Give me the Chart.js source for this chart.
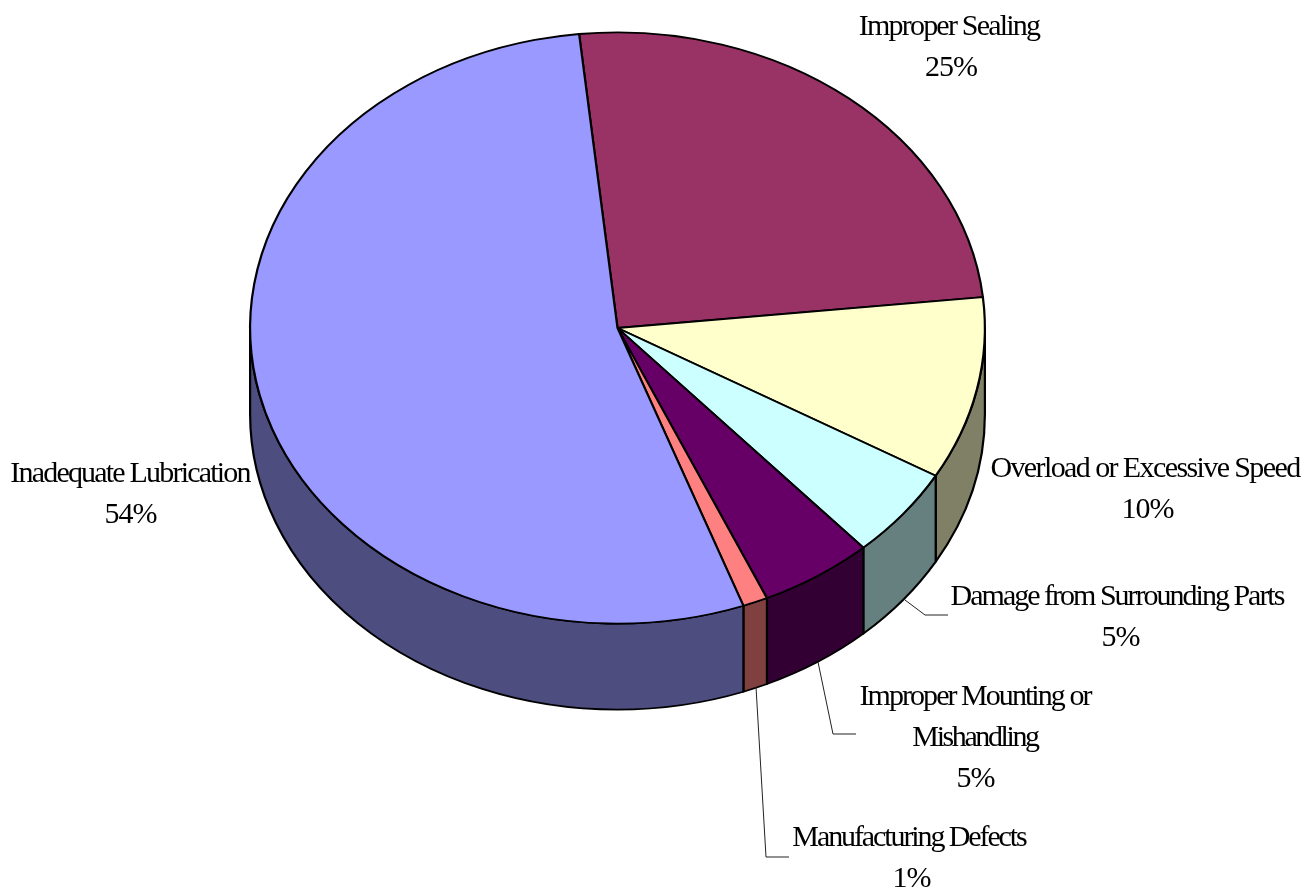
<!DOCTYPE html>
<html>
<head>
<meta charset="utf-8">
<title>Failure causes</title>
<script src="https://cdn.jsdelivr.net/npm/chart.js@4"></script>
<style>
  html, body { margin: 0; padding: 0; background: #fff; }
  canvas { display: block; }
</style>
</head>
<body>
<canvas id="pie" width="1310" height="890"></canvas>
<script>
const causes = ["Improper Sealing", "Overload or Excessive Speed", "Damage from Surrounding Parts",
  "Improper Mounting or Mishandling", "Manufacturing Defects", "Inadequate Lubrication"];
const shares = [25, 10, 5, 5, 1.1, 53.9];

const topColors = ["#993366", "#ffffcc", "#ccffff", "#660066", "#ff8080", "#9999ff"];
const wallColors = ["#4d1a33", "#808066", "#668080", "#330033", "#804040", "#4d4d80"];

// label text placement, one entry per cause
const labelLines = [
  ["Improper Sealing"],
  ["Overload or Excessive Speed"],
  ["Damage from Surrounding Parts"],
  ["Improper Mounting or", "Mishandling"],
  ["Manufacturing Defects"],
  ["Inadequate Lubrication"]
];
const labelTracking = [[-1.8], [-1.6], [-2], [-1.95, -2.4], [-2.1], [-1.8]];
const labelCenterX = [949, 1145, 1117, 975, 909, 130];
const percentCenterX = [951, 1147.5, 1120.5, 975.5, 911.5, 130.5];
const labelFirstBaseline = [35, 477, 605, 705, 846, 482];
const lineGap = 41;

// leader lines for the labels that sit away from their slice
const leaders = [
  [[905, 600], [925, 615], [948, 615]],
  [[818, 662], [833, 734], [856, 734]],
  [[756, 687], [766, 857], [789, 857]]
];

const centerY = 328;
const squash = 296.5 / 368.5;
const depth = 86;

const tiltAndWalls = {
  id: "tiltAndWalls",
  beforeDatasetsDraw(chart) {
    const ctx = chart.ctx;
    const arcs = chart.getDatasetMeta(0).data;
    const midY = (chart.chartArea.top + chart.chartArea.bottom) / 2;
    ctx.save();
    ctx.translate(0, centerY);
    ctx.scale(1, squash);
    ctx.translate(0, -midY);

    // only the part of the rim facing the viewer gets a wall
    const drop = depth / squash;
    arcs.forEach((arc, i) => {
      const from = Math.max(arc.startAngle, 0);
      const to = Math.min(arc.endAngle, Math.PI);
      if (from >= to) return;
      ctx.beginPath();
      ctx.arc(arc.x, arc.y, arc.outerRadius, from, to);
      ctx.arc(arc.x, arc.y + drop, arc.outerRadius, to, from, true);
      ctx.closePath();
      ctx.fillStyle = wallColors[i];
      ctx.fill();
      ctx.lineWidth = 2.2;
      ctx.lineJoin = "round";
      ctx.strokeStyle = "#000";
      ctx.stroke();
    });
  },
  afterDatasetsDraw(chart) {
    const ctx = chart.ctx;
    ctx.restore();

    ctx.strokeStyle = "#222";
    ctx.lineWidth = 1;
    leaders.forEach(pts => {
      ctx.beginPath();
      pts.forEach(([x, y], i) => (i ? ctx.lineTo(x, y) : ctx.moveTo(x, y)));
      ctx.stroke();
    });

    ctx.fillStyle = "#000";
    ctx.font = '30px "Liberation Serif"';
    ctx.textAlign = "center";
    ctx.textBaseline = "alphabetic";
    labelLines.forEach((lines, i) => {
      lines.forEach((line, n) => {
        ctx.letterSpacing = labelTracking[i][n] + "px";
        ctx.fillText(line, labelCenterX[i], labelFirstBaseline[i] + n * lineGap);
      });
      ctx.letterSpacing = "-1px";
      ctx.fillText(Math.round(shares[i]) + "%", percentCenterX[i], labelFirstBaseline[i] + lines.length * lineGap);
    });
    ctx.letterSpacing = "0px";
  }
};

new Chart(document.getElementById("pie"), {
  type: "pie",
  data: {
    labels: causes,
    datasets: [{
      data: shares,
      backgroundColor: topColors,
      borderColor: "#000",
      borderWidth: 2.2,
      borderJoinStyle: "round",
      clip: false
    }]
  },
  options: {
    responsive: false,
    animation: false,
    rotation: -6,
    layout: { padding: { left: 249, right: 324, top: 76.5, bottom: 76.5 } },
    plugins: { legend: { display: false }, tooltip: { enabled: false } }
  },
  plugins: [tiltAndWalls]
});
</script>
</body>
</html>
